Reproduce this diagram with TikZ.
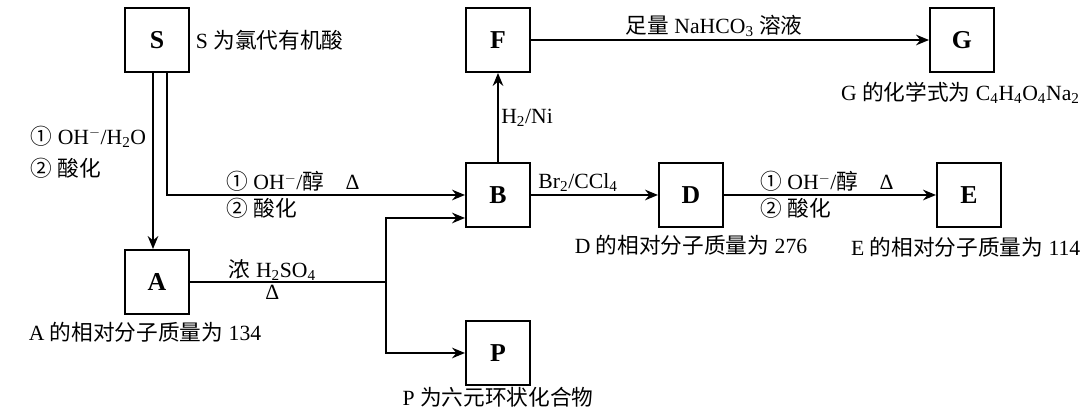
\documentclass[tikz,border=0pt]{standalone}
\usepackage{fontspec}
\setmainfont{Liberation Serif}
\newfontfamily\cjk{Noto Sans CJK SC}
\newcommand{\zh}[1]{{\cjk #1}}
\usetikzlibrary{arrows.meta,positioning,calc}

\begin{document}
\begin{tikzpicture}[
  box/.style={draw, line width=1.7pt, minimum width=1.92cm, minimum height=1.92cm, inner sep=0pt, font=\fontsize{22}{24}\selectfont\bfseries},
  note/.style={font=\fontsize{18.5}{22}\selectfont, inner sep=2pt},
  ln/.style={line width=1.7pt},
  arr/.style={-{Stealth[length=11pt,width=9pt]}, line width=1.7pt}
]

\node[box] (S) {S};
\node[box, right=8.25cm of S] (F) {F};
\node[box, right=11.94cm of F] (G) {G};
\node[box, below=2.67cm of F] (B) {B};
\node[box, right=3.81cm of B] (D) {D};
\node[box, right=6.36cm of D] (E) {E};
\node[box, below=5.28cm of S] (A) {A};
\node[box, below=2.76cm of B] (P) {P};

\useasboundingbox (-4.71,1.2) rectangle (27.99,-11.16);

% notes on the compounds
\node[note, right=0.1cm of S] (Snote) {S \zh{为氯代有机酸}};
\node[note, below=0.2cm of G, xshift=-0.05cm] (Gnote) {G \zh{的化学式为} C\textsubscript{4}H\textsubscript{4}O\textsubscript{4}Na\textsubscript{2}};
\node[note, below=0.15cm of D] (Dnote) {D \zh{的相对分子质量为} 276};
\node[note, below=0.2cm of E, xshift=-0.1cm] (Enote) {E \zh{的相对分子质量为} 114};
\node[note, below=0.15cm of A, xshift=-0.36cm] (Anote) {A \zh{的相对分子质量为} 134};
\node[note, below=0cm of P, inner sep=1pt] (Pnote) {P \zh{为六元环状化合物}};

% S splits into two routes
\coordinate (sl) at ([xshift=-0.12cm]S.south);
\coordinate (sr) at ([xshift=0.3cm]S.south);
\draw[arr] (sl) -- node[note, left=3pt, align=left, pos=0.45] {\zh{①} OH$^-$/H\textsubscript{2}O\\[6pt]\zh{②} \zh{酸化}} (sl |- A.north);
\draw[arr] (sr) |- node[note, above right, pos=0.594] {\zh{①} OH$^-$/\zh{醇}\quad Δ}
  node[note, below right, pos=0.594] {\zh{②} \zh{酸化}} (B.west);

% A to B and P
\coordinate (split) at ([xshift=-2.37cm]B.west |- A.east);
\draw[ln] (A) -- node[note, above, pos=0.42, inner sep=0pt] {\zh{浓} H\textsubscript{2}SO\textsubscript{4}}
  node[note, below, pos=0.42] {Δ} (split);
\draw[arr] (split) |- ([yshift=-0.69cm]B.west);
\draw[arr] (split) |- (P.west);

\draw[arr] (B) -- node[note, right] {H\textsubscript{2}/Ni} (F);
\draw[arr] (F) -- node[note, above, pos=0.46] {\zh{足量} NaHCO\textsubscript{3} \zh{溶液}} (G);
\draw[arr] (B) -- node[note, above, pos=0.37] {Br\textsubscript{2}/CCl\textsubscript{4}} (D);
\draw[arr] (D) -- node[note, above right, pos=0.156] {\zh{①} OH$^-$/\zh{醇}\quad Δ}
  node[note, below right, pos=0.156] {\zh{②} \zh{酸化}} (E);

\end{tikzpicture}
\end{document}
